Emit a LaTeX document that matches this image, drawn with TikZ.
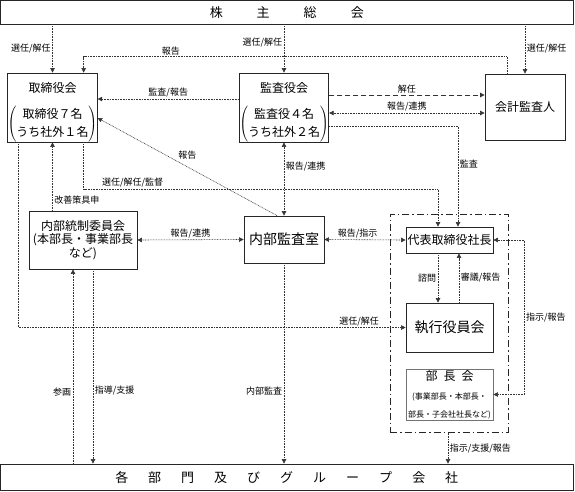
\documentclass[tikz,border=0pt]{standalone}
\usepackage{fontspec}
\setmainfont{Noto Sans CJK JP}
\usepackage{tikz}
\usetikzlibrary{arrows.meta}
\usetikzlibrary{calc}

\newcommand{\kakko}[2]{$\left(\renewcommand{\arraystretch}{1.25}\begin{tabular}{@{}c@{}}#1\\#2\end{tabular}\right)$}

\tikzset{
  box/.style={draw=black!85, line width=0.8pt, inner sep=0pt, align=center,
    font=\fontsize{12}{14}\selectfont},
  lbl/.style={font=\fontsize{9}{10}\selectfont, inner sep=1.5pt},
  dotln/.style={draw=black!80, line width=0.6pt, dash pattern=on 0.8pt off 0.8pt},
  dashln/.style={draw=black!80, line width=0.8pt, dash pattern=on 5pt off 3pt},
  arw/.style={-{Triangle[length=4.5pt,width=4.5pt]}},
  darw/.style={{Triangle[length=4.5pt,width=4.5pt]}-{Triangle[length=4.5pt,width=4.5pt]}},
  grp/.style={draw=black!85, line width=1pt, dash pattern=on 7pt off 3pt on 1.5pt off 3pt}
}

\begin{document}
\begin{tikzpicture}[x=1pt,y=-1pt]
\useasboundingbox (0,0) rectangle (575,491);

% boxes
\node[grp, minimum width=118, minimum height=218] (kanri) at (449,323) {};
\node[box, minimum width=572.5, minimum height=23.5, font=\fontsize{13}{15}\selectfont] (soukai) at (286.75,12.25) {株\hspace{34pt}主\hspace{34pt}総\hspace{34pt}会};
\node[box, minimum width=89, minimum height=65] (torishimari) at (52.5,107.5) {\rule{0pt}{19pt}取締役会\\[12pt]\kakko{取締役７名}{うち社外１名}};
\node[box, minimum width=88, minimum height=65] (kansayaku) at (284,107.5) {\rule{0pt}{19pt}監査役会\\[12pt]\kakko{監査役４名}{うち社外２名}};
\node[box, minimum width=80, minimum height=66] (kaikei) at (525,107) {会計監査人};
\node[box, minimum width=108, minimum height=58, font=\fontsize{12}{13.5}\selectfont] (tousei) at (83,240) {内部統制委員会\\(本部長・事業部長\\など)};
\node[box, minimum width=80, minimum height=47, font=\fontsize{14}{16}\selectfont] (kansashitsu) at (284,239.5) {内部監査室};
\node[box, minimum width=87, minimum height=26] (shacho) at (449.5,240) {代表取締役社長};
\node[box, minimum width=87, minimum height=49, font=\fontsize{14}{16}\selectfont] (shikko) at (449.5,327.5) {執行役員会};
\node[box, draw=black!55, minimum width=87, minimum height=51, font=\fontsize{8}{10}\selectfont] (bucho) at (449.5,394.5) {{\fontsize{12}{14}\selectfont 部\hspace{6pt}長\hspace{6pt}会}\\[9pt](事業部長・本部長・\\[8pt]部長・子会社社長など)};
\node[box, minimum width=572.5, minimum height=26.5, font=\fontsize{13}{15}\selectfont] (kakubu) at (286.75,477.25) {各\hspace{20pt}部\hspace{20pt}門\hspace{20pt}及\hspace{20pt}び\hspace{20pt}グ\hspace{20pt}ル\hspace{20pt}ー\hspace{20pt}プ\hspace{20pt}会\hspace{20pt}社};

% from the top
\draw[dotln, arw] (soukai.south -| torishimari) -- node[lbl, left] {選任/解任} (torishimari.north);
\draw[dotln, arw] (soukai.south -| kansayaku) -- node[lbl, left, pos=0.38] {選任/解任} (kansayaku.north);
\draw[dotln, arw] (soukai.south -| kaikei) -- node[lbl, right] {選任/解任} (kaikei.north);
\draw[dotln, arw] ([xshift=-18]kaikei.north) -- ++(0,-17) -| node[lbl, above, pos=0.397] {報告} ([xshift=-14]torishimari.north east);

% between the boards
\draw[dotln, arw] ([yshift=8.5]kansayaku.west) -- node[lbl, above] {監査/報告} ([yshift=8.5]torishimari.east |- kansayaku.west);
\draw[dashln, arw] ([yshift=12.5]kansayaku.east) -- node[lbl, above] {解任} ([yshift=12.5]kaikei.west |- kansayaku.east);
\draw[dotln, darw] ([yshift=-5.5]kansayaku.east) -- node[lbl, above] {報告/連携} ([yshift=-5.5]kaikei.west |- kansayaku.east);
\draw[dotln, arw] ([yshift=-18.5]kansayaku.east) -| node[lbl, right, pos=0.69] {監査} ([xshift=8.5]shacho.north);
\draw[dotln, arw] ([xshift=-14]torishimari.south east) -- ++(0,47) -| node[lbl, above, pos=0.069] {選任/解任/監督} ([xshift=-11.5]shacho.north);
\draw[dotln, arw] ([xshift=-7]kansashitsu.north) -- node[lbl, above, pos=0.5, yshift=6] {報告} ([yshift=-10.5]torishimari.east);
\draw[dotln, darw] (kansayaku.south) -- node[lbl, right, pos=0.33] {報告/連携} (kansashitsu.north);
\draw[dotln, arw] (torishimari.south |- tousei.north) -- node[lbl, right, pos=0.15] {改善策具申} (torishimari.south);
\draw[dotln, arw] ([xshift=11]torishimari.south west) |- node[lbl, above, pos=0.94] {選任/解任} (shikko.west);

% middle row
\draw[dotln, darw] (tousei.east) -- node[lbl, above] {報告/連携} (kansashitsu.west);
\draw[dotln, darw] (kansashitsu.east) -- node[lbl, above, pos=0.41] {報告/指示} (shacho.west);
\draw[dotln, arw] ([xshift=-11.5]shacho.south) -- node[lbl, left] {諮問} ([xshift=-11.5]shikko.north);
\draw[dotln, arw] ([xshift=9.5]shikko.north) -- node[lbl, right] {審議/報告} ([xshift=9.5]shacho.south);
\draw[dotln, darw] (shacho.east) -- ++(31,0) |- node[lbl, right, pos=0.25] {指示/報告} (bucho.east);

% down to the bottom
\draw[dotln, arw] ([xshift=-10]tousei.south |- kakubu.north) -- node[lbl, left, pos=0.37] {参画} ([xshift=-10]tousei.south);
\draw[dotln, arw] ([xshift=10]tousei.south) -- node[lbl, right, pos=0.626] {指導/支援} ([xshift=10]tousei.south |- kakubu.north);
\draw[dotln, arw] (kansashitsu.south) -- node[lbl, left, pos=0.637] {内部監査} (kansashitsu.south |- kakubu.north);
\draw[dotln, arw] ([xshift=-1]kanri.south) -- node[lbl, right] {指示/支援/報告} ([xshift=-1]kanri.south |- kakubu.north);

\end{tikzpicture}
\end{document}
